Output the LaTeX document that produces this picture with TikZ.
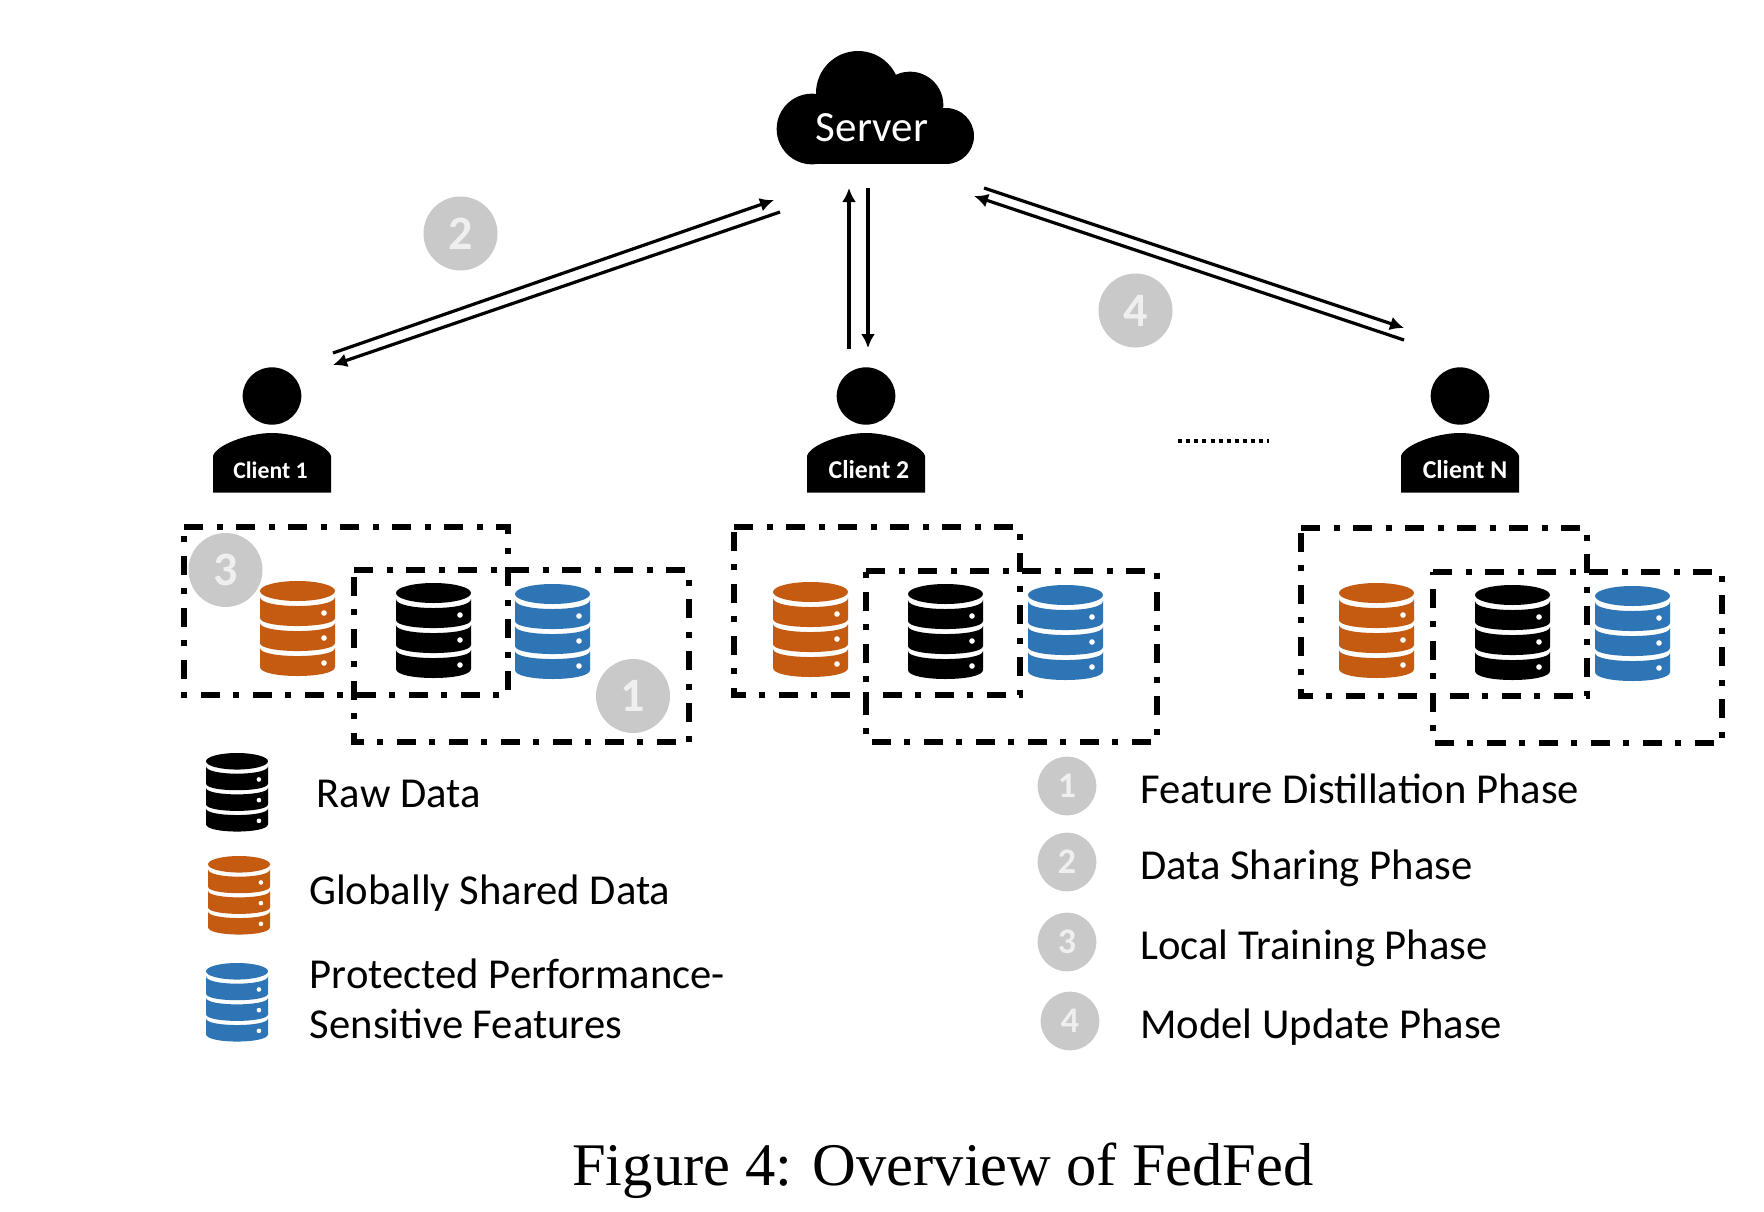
\documentclass[tikz,border=0pt]{standalone}
\usepackage{fontspec}
\setmainfont{Carlito}
\newfontfamily\capfont{Liberation Serif}
\usetikzlibrary{arrows.meta}
\definecolor{dbblack}{HTML}{000000}
\definecolor{dborange}{HTML}{C55A11}
\definecolor{dbblue}{HTML}{2E75B6}
\definecolor{badge}{HTML}{C9C9C9}
\definecolor{badgetext}{HTML}{EFEFEF}
\tikzset{
  link/.style={line width=2.4pt,-{Latex[length=10.5pt,width=10.5pt]}},
  region/.style={draw=black,line width=3.9pt,dash pattern=on 14.5pt off 10pt on 4.5pt off 10pt},
  bigbadge/.style={circle,fill=badge,inner sep=0pt,minimum size=55.5pt,text=badgetext,font=\fontsize{36}{36}\selectfont\bfseries},
  smallbadge/.style={circle,fill=badge,inner sep=0pt,minimum size=44pt,text=badgetext,font=\fontsize{27}{27}\selectfont\bfseries},
  legendtext/.style={anchor=base west,inner sep=0pt,font=\fontsize{32}{32}\selectfont},
  clientlabel/.style={anchor=base,text=white,inner sep=0pt,font=\fontsize{19.3}{19.3}\selectfont\bfseries},
  dbcyl/.pic={
    \fill[#1] (37.5,10) ellipse [x radius=28.125pt,y radius=7.5pt];
    \fill[#1] (0,16) .. controls (0,28) and (75,28) .. (75,16) -- (75,37)
       .. controls (75,47.7) and (0,47.7) .. (0,37) -- cycle;
    \fill[#1] (0,42) .. controls (0,52.7) and (75,52.7) .. (75,42) -- (75,62)
       .. controls (75,72.7) and (0,72.7) .. (0,62) -- cycle;
    \fill[#1] (0,67) .. controls (0,77.7) and (75,77.7) .. (75,67) -- (75,86)
       .. controls (75,98) and (0,98) .. (0,86) -- cycle;
    \fill[white] (64,32) circle [radius=2.1pt] (64,57) circle [radius=2.1pt] (64,82) circle [radius=2.1pt];
  },
  person/.pic={
    \fill[black] (59,-37) ellipse [x radius=22pt,y radius=21.5pt];
    \fill[black] (0,59.5) -- (0,23) .. controls (3,12) and (35,0) .. (59,0)
       .. controls (83,0) and (115,12) .. (118,23) -- (118,59.5) -- cycle;
  }
}
\begin{document}
\begin{tikzpicture}[x=0.75pt,y=-0.75pt]
\useasboundingbox (0,0) rectangle (1764,1211);
\fill[white] (0,0) rectangle (1764,1211);

% cloud
\fill[black] (812,129) circle [radius=26.5pt] (858,93) circle [radius=31.5pt]
  (910,105) circle [radius=25pt] (946,136) circle [radius=21pt];
\fill[black] (812,120) rectangle (946,164);
\fill[black] (840,105) rectangle (930,130);
\node[anchor=base,text=white,inner sep=0pt,font=\fontsize{32.3}{32.3}\selectfont] (server) at (872,141) {Server};

% arrow ends
\coordinate (a1s) at (333,353); \coordinate (a1e) at (774,200);
\coordinate (a2s) at (780,212); \coordinate (a2e) at (333,365);
\coordinate (b1s) at (849,349); \coordinate (b1e) at (849,188);
\coordinate (b2s) at (868,188); \coordinate (b2e) at (868,348);
\coordinate (c1s) at (984,188); \coordinate (c1e) at (1404,328);
\coordinate (c2s) at (1404,340); \coordinate (c2e) at (974,196);
\draw[link] (a1s) -- (a1e);
\draw[link] (a2s) -- (a2e);
\draw[link] (b1s) -- (b1e);
\draw[link] (b2s) -- (b2e);
\draw[link] (c1s) -- (c1e);
\draw[link] (c2s) -- (c2e);

% clients
\pic (p1) at (213,433) {person};
\pic (p2) at (807,433) {person};
\pic (p3) at (1401,433) {person};
\node[clientlabel,font=\fontsize{17.8}{17.8}\selectfont\bfseries] (client1) at (270.5,478) {Client 1};
\node[clientlabel] (client2) at (869,478) {Client 2};
\node[clientlabel] (clientN) at (1465,478) {Client N};

% dots
\coordinate (dots1) at (1178,441); \coordinate (dots2) at (1269,441);
\draw[line width=3pt,dash pattern=on 3pt off 3.1pt] (dots1) -- (dots2);

% regions (clockwise from the top left corner)
\draw[region] (184,527) -- (508,527) -- (508,695) -- (184,695) -- cycle;
\draw[region] (354,570) -- (689,570) -- (689,742) -- (354,742) -- cycle;
\draw[region] (734,527) -- (1020,527) -- (1020,695) -- (734,695) -- cycle;
\draw[region] (866,571) -- (1157,571) -- (1157,742) -- (866,742) -- cycle;
\draw[region] (1301,528) -- (1587,528) -- (1587,696) -- (1301,696) -- cycle;
\draw[region] (1433,572) -- (1722,572) -- (1722,743) -- (1433,743) -- cycle;

% cylinders
\pic (d1a) at (260,581) {dbcyl=dborange};
\pic (d1b) at (396,583) {dbcyl=dbblack};
\pic (d1c) at (515,584) {dbcyl=dbblue};
\pic (d2a) at (773,582) {dbcyl=dborange};
\pic (d2b) at (908,584) {dbcyl=dbblack};
\pic (d2c) at (1028,585) {dbcyl=dbblue};
\pic (d3a) at (1339,583) {dbcyl=dborange};
\pic (d3b) at (1475,585) {dbcyl=dbblack};
\pic (d3c) at (1595,586) {dbcyl=dbblue};

% badges
\node[bigbadge] (b2) at (460.5,233.5) {2};
\node[bigbadge] (b4) at (1135.5,310.5) {4};
\node[bigbadge] (b3) at (225.5,570) {3};
\node[bigbadge] (b1) at (633,696) {1};

% legend left
\pic[xscale=.827,yscale=.827] (l1) at (206,753) {dbcyl=dbblack};
\pic[xscale=.827,yscale=.827] (l2) at (208,856) {dbcyl=dborange};
\pic[xscale=.827,yscale=.827] (l3) at (206,963) {dbcyl=dbblue};
\node[legendtext] (t1) at (316.5,807) {Raw Data};
\node[legendtext] (t2) at (309,904) {Globally Shared Data};
\node[legendtext] (t3) at (309.5,988.5) {Protected Performance-};
\node[legendtext] (t4) at (309.5,1038) {Sensitive Features};

% legend right
\node[smallbadge] (s1) at (1067,786) {1};
\node[smallbadge] (s2) at (1067,862) {2};
\node[smallbadge] (s3) at (1067,942) {3};
\node[smallbadge] (s4) at (1070,1021) {4};
\node[legendtext] (r1) at (1140,803) {Feature Distillation Phase};
\node[legendtext] (r2) at (1140,879) {Data Sharing Phase};
\node[legendtext] (r3) at (1140,959) {Local Training Phase};
\node[legendtext] (r4) at (1140,1038) {Model Update Phase};

% caption
\node[anchor=base,inner sep=0pt,font=\capfont\fontsize{45.4}{45.4}\selectfont] (caption) at (943,1185) {Figure 4: Overview of FedFed};
\end{tikzpicture}
\end{document}
